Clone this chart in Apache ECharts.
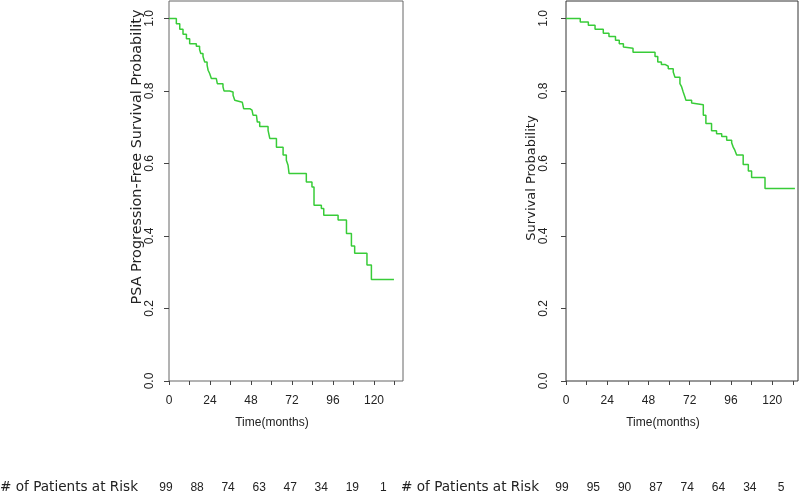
<!DOCTYPE html>
<html>
<head>
<meta charset="utf-8">
<script src="https://cdn.jsdelivr.net/npm/echarts@6/dist/echarts.min.js"></script>
<style>
html, body { margin: 0; padding: 0; background: #fff; }
#main { width: 800px; height: 494px; }
</style>
</head>
<body>
<div id="main"></div>
<script>
// left panel: PSA progression-free survival, step times (months) and level after each step
var psaTimes = [0, 4.3, 6.3, 8.2, 10.2, 12.1, 16.0, 17.9, 18.6, 19.9, 20.9, 22.3, 22.9, 23.8, 24.8,
    27.7, 28.3, 31.6, 32.2, 35.5, 37.5, 38.5, 39.4, 42.9, 43.7, 47.3, 48.6, 49.2, 51.2, 51.7,
    53.1, 58.0, 59.0, 62.9, 66.8, 68.7, 69.7, 70.3, 80.4, 83.7, 84.9, 89.2, 90.6, 99.0, 103.9,
    106.8, 108.7, 115.9, 118.5, 131.7];
var psaSurv = [1.0, 0.985, 0.97, 0.956, 0.944, 0.93, 0.923, 0.914, 0.903, 0.895, 0.88, 0.871, 0.857, 0.848, 0.834,
    0.829, 0.82, 0.811, 0.80, 0.797, 0.788, 0.774, 0.769, 0.765, 0.751, 0.747, 0.742, 0.733, 0.728, 0.714,
    0.702, 0.691, 0.669, 0.645, 0.623, 0.609, 0.595, 0.572, 0.549, 0.535, 0.485, 0.476, 0.457, 0.444, 0.407,
    0.372, 0.352, 0.32, 0.28, 0.28];

// right panel: overall survival
var osTimes = [0, 8.3, 13.0, 16.9, 21.7, 25.0, 28.8, 31.0, 33.4, 34.3, 39.0, 51.8, 53.4, 55.5, 57.6,
    59.5, 62.4, 63.4, 66.3, 67.3, 68.2, 69.2, 69.8, 73.1, 74.1, 79.9, 81.4, 84.7, 87.6, 90.6,
    93.5, 96.4, 97.3, 98.3, 99.3, 103.1, 106.1, 108.0, 115.8, 133.2];
var osSurv = [1.0, 0.99, 0.981, 0.97, 0.959, 0.95, 0.94, 0.93, 0.921, 0.918, 0.907, 0.895, 0.88, 0.873, 0.868,
    0.861, 0.852, 0.838, 0.82, 0.811, 0.797, 0.783, 0.774, 0.767, 0.762, 0.733, 0.71, 0.69, 0.682, 0.674,
    0.664, 0.657, 0.645, 0.636, 0.623, 0.597, 0.579, 0.561, 0.531, 0.531];

var xTickValues = [0, 12, 24, 36, 48, 60, 72, 84, 96, 108, 120, 132];
var xLabelValues = [0, 24, 48, 72, 96, 120];
var yTickValues = [0, 0.2, 0.4, 0.6, 0.8, 1.0];

var psaRisk = [99, 88, 74, 63, 47, 34, 19, 1];
var osRisk = [99, 95, 90, 87, 74, 64, 34, 5];

var riskLabel = '# of Patients at Risk';
var xName = 'Time(months)';
var psaYName = 'PSA Progression-Free Survival Probability';
var osYName = 'Survival Probability';

var chart = echarts.init(document.getElementById('main'));

var lineGreen = '#38cc38';
var txt = '#222';
var numFont = 'Liberation Sans';
var nameFont = 'DejaVu Sans';

function pairs(ts, ss) {
    return ts.map(function (t, i) { return [t, ss[i]]; });
}

function xAxisCfg(idx, max) {
    return {
        type: 'value', gridIndex: idx, min: 0, max: max,
        axisLine: { show: false },
        splitLine: { show: false },
        axisTick: { show: true, length: 4, lineStyle: { color: '#444' }, customValues: xTickValues },
        axisLabel: { customValues: xLabelValues, margin: 14, color: txt, fontSize: 12, fontFamily: numFont }
    };
}

function yAxisCfg(idx, margin) {
    return {
        type: 'value', gridIndex: idx, min: 0, max: 1.048,
        axisLine: { show: false },
        splitLine: { show: false },
        axisTick: { show: true, length: 5, lineStyle: { color: '#444' }, customValues: yTickValues },
        axisLabel: {
            customValues: yTickValues, rotate: 90, margin: margin,
            color: txt, fontSize: 12, fontFamily: numFont,
            formatter: function (v) { return v.toFixed(1); }
        }
    };
}

function label(text, x, y, size, family, align, rot) {
    return {
        type: 'text', x: x, y: y, rotation: rot || 0,
        style: {
            text: text, fill: txt, font: size + 'px "' + family + '"',
            align: align, verticalAlign: 'middle', textAlign: align, textVerticalAlign: 'middle'
        }
    };
}

var graphics = [
    label(psaYName, 137, 157, 14.4, nameFont, 'center', Math.PI / 2),
    label(osYName, 532, 178, 13, nameFont, 'center', Math.PI / 2),
    label(xName, 272, 423, 12, numFont, 'center'),
    label(xName, 663, 423, 12, numFont, 'center'),
    label(riskLabel, 0, 487.5, 13.6, nameFont, 'left'),
    label(riskLabel, 401, 487.5, 13.6, nameFont, 'left')
];

psaRisk.forEach(function (n, i) {
    graphics.push(label(String(n), 166 + i * 31.05, 487.5, 12, numFont, 'center'));
});
osRisk.forEach(function (n, i) {
    graphics.push(label(String(n), 562 + i * 31.3, 487.5, 12, numFont, 'center'));
});

var option = {
    animation: false,
    backgroundColor: '#fff',
    grid: [
        { left: 169, right: 397, top: 1, bottom: 113, show: true, borderColor: '#666', borderWidth: 1 },
        { left: 566, right: 2, top: 1, bottom: 113, show: true, borderColor: '#333', borderWidth: 1 }
    ],
    xAxis: [xAxisCfg(0, 137), xAxisCfg(1, 135)],
    yAxis: [yAxisCfg(0, 13), yAxisCfg(1, 16)],
    series: [
        { type: 'line', step: 'end', xAxisIndex: 0, yAxisIndex: 0, showSymbol: false, silent: true,
          lineStyle: { color: lineGreen, width: 1.5 }, data: pairs(psaTimes, psaSurv) },
        { type: 'line', step: 'end', xAxisIndex: 1, yAxisIndex: 1, showSymbol: false, silent: true,
          lineStyle: { color: lineGreen, width: 1.5 }, data: pairs(osTimes, osSurv) }
    ],
    graphic: graphics
};

chart.setOption(option);
</script>
</body>
</html>
